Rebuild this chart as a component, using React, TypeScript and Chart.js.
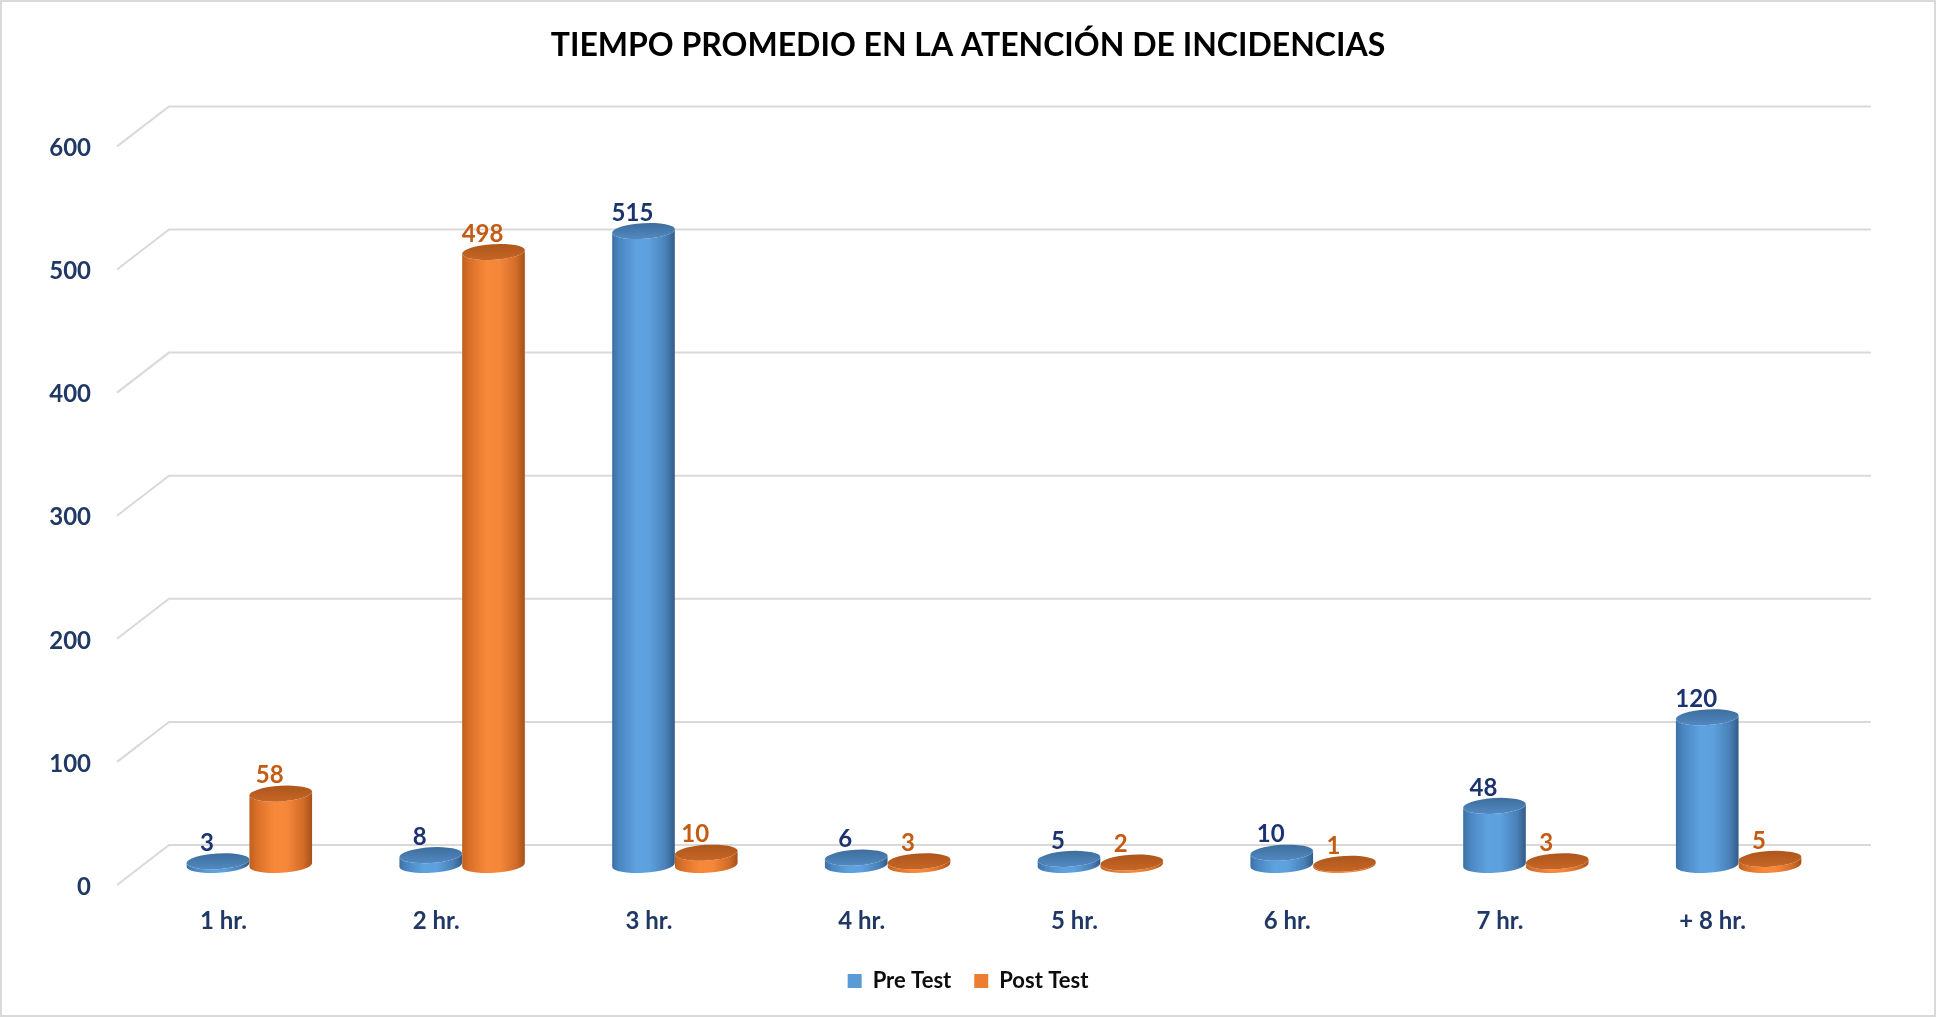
import { useEffect, useRef } from "react";
import { Chart, registerables } from "chart.js";

Chart.register(...registerables);

// ---- data ----
const chartTitle = "TIEMPO PROMEDIO EN LA ATENCIÓN DE INCIDENCIAS";
const categories = ["1 hr.", "2 hr.", "3 hr.", "4 hr.", "5 hr.", "6 hr.", "7 hr.", "+ 8 hr."];
const seriesNames = ["Pre Test", "Post Test"];
const preTest = [3, 8, 515, 6, 5, 10, 48, 120];
const postTest = [58, 498, 10, 3, 2, 1, 3, 5];
const yMin = 0;
const yMax = 600;
const yStep = 100;

// ---- look ----
const FONT = "Lato";
const NAVY = "#1F3864";
const LABEL_COLORS = ["#1B3470", "#C55A11"];
const LEGEND_COLORS = ["#5B9BD5", "#ED7D31"];
// shift from the plane the cylinders stand on to the front / back walls
const DEPTH_X = 26;
const DEPTH_Y = 20;

type Stop = [number, string];
interface Palette {
  body: Stop[];
  top: Stop[];
}
const PALETTES: Palette[] = [
  {
    body: [
      [0, "#3D70A4"],
      [0.12, "#4B87C2"],
      [0.4, "#5EA3E0"],
      [0.6, "#5CA0DD"],
      [0.86, "#4980B8"],
      [1, "#325C87"],
    ],
    top: [
      [0, "#3E6E9E"],
      [1, "#5189C0"],
    ],
  },
  {
    body: [
      [0, "#BF601E"],
      [0.12, "#DA7029"],
      [0.4, "#F8893A"],
      [0.6, "#F5873A"],
      [0.86, "#D26C27"],
      [1, "#A6511A"],
    ],
    top: [
      [0, "#AE561C"],
      [1, "#C56626"],
    ],
  },
];

function drawCylinder(
  ctx: CanvasRenderingContext2D,
  cx: number,
  yTop: number,
  yBase: number,
  w: number,
  pal: Palette
) {
  const rx = w / 2;
  const ry = w * 0.125;
  const rot = -0.06;
  const c = Math.cos(rot);
  const s = Math.sin(rot);

  const body = ctx.createLinearGradient(cx - rx, 0, cx + rx, 0);
  pal.body.forEach(([o, col]) => body.addColorStop(o, col));
  ctx.beginPath();
  ctx.moveTo(cx - rx * c, yTop - rx * s);
  ctx.lineTo(cx - rx * c, yBase - rx * s);
  ctx.ellipse(cx, yBase, rx, ry, rot, Math.PI, 0, true);
  ctx.lineTo(cx + rx * c, yTop + rx * s);
  ctx.ellipse(cx, yTop, rx, ry, rot, 0, Math.PI, false);
  ctx.closePath();
  ctx.fillStyle = body;
  ctx.fill();

  const top = ctx.createLinearGradient(0, yTop - ry, 0, yTop + ry);
  pal.top.forEach(([o, col]) => top.addColorStop(o, col));
  ctx.beginPath();
  ctx.ellipse(cx, yTop, rx, ry, rot, 0, Math.PI * 2);
  ctx.fillStyle = top;
  ctx.fill();
}

const depthPlugin = {
  id: "depth3d",
  beforeDraw(chart: any) {
    const { ctx, width, height } = chart;
    ctx.save();
    ctx.fillStyle = "#FFFFFF";
    ctx.fillRect(0, 0, width, height);
    ctx.strokeStyle = "#D9D9D9";
    ctx.lineWidth = 2;
    ctx.strokeRect(1, 1, width - 2, height - 2);
    ctx.restore();
  },
  beforeDatasetsDraw(chart: any) {
    const { ctx, chartArea, scales } = chart;
    const y = scales.y;
    ctx.save();
    ctx.strokeStyle = "#D9D9D9";
    ctx.lineWidth = 2;
    for (let v = yMin; v <= yMax; v += yStep) {
      const py = y.getPixelForValue(v);
      ctx.beginPath();
      ctx.moveTo(chartArea.left - DEPTH_X, py + DEPTH_Y);
      ctx.lineTo(chartArea.left + DEPTH_X, py - DEPTH_Y);
      ctx.lineTo(chartArea.right + DEPTH_X, py - DEPTH_Y);
      ctx.stroke();
    }
    ctx.restore();
  },
  beforeDatasetDraw() {
    // the flat bars are replaced by cylinders
    return false;
  },
  afterDatasetsDraw(chart: any) {
    const { ctx } = chart;
    const metas = chart.data.datasets.map((_: any, d: number) => chart.getDatasetMeta(d));
    ctx.save();
    for (let i = 0; i < categories.length; i++) {
      metas.forEach((meta: any, d: number) => {
        const el = meta.data[i];
        if (!el) return;
        const { x, y, base, width } = el.getProps(["x", "y", "base", "width"], true);
        drawCylinder(ctx, x, y, base, width, PALETTES[d]);
      });
    }
    ctx.font = `bold 24px ${FONT}`;
    ctx.textAlign = "center";
    ctx.textBaseline = "middle";
    metas.forEach((meta: any, d: number) => {
      const values = chart.data.datasets[d].data as number[];
      meta.data.forEach((el: any, i: number) => {
        const { x, y } = el.getProps(["x", "y"], true);
        ctx.fillStyle = LABEL_COLORS[d];
        ctx.fillText(String(values[i]), x - 11, y - 18);
      });
    });
    ctx.restore();
  },
};

export default function App() {
  const canvasRef = useRef<HTMLCanvasElement | null>(null);

  useEffect(() => {
    if (!canvasRef.current) return;
    Chart.defaults.font.family = FONT;
    const chart = new Chart(canvasRef.current, {
      type: "bar",
      data: {
        labels: categories,
        datasets: [
          {
            label: seriesNames[0],
            data: preTest,
            backgroundColor: LEGEND_COLORS[0],
            borderWidth: 0,
          },
          {
            label: seriesNames[1],
            data: postTest,
            backgroundColor: LEGEND_COLORS[1],
            borderWidth: 0,
          },
        ],
      },
      options: {
        responsive: false,
        animation: false,
        events: [],
        datasets: {
          bar: { categoryPercentage: 0.59, barPercentage: 1.0 },
        },
        layout: { padding: { left: 45, right: 45, top: 0, bottom: 15 } },
        scales: {
          x: {
            grid: { display: false, drawTicks: false },
            border: { display: false },
            ticks: {
              color: NAVY,
              font: { size: 24, weight: "bold" },
              padding: 42,
              labelOffset: -DEPTH_X,
              maxRotation: 0,
              autoSkip: false,
            },
            afterFit: (scale: any) => {
              scale.height = 82;
            },
          },
          y: {
            min: yMin,
            max: yMax,
            grid: { display: false, drawTicks: false },
            border: { display: false },
            ticks: {
              stepSize: yStep,
              color: NAVY,
              font: { size: 24, weight: "bold" },
              padding: 52,
              labelOffset: DEPTH_Y + 2,
            },
            afterFit: (scale: any) => {
              scale.width = 98;
            },
          },
          // empty right-hand strip that keeps room for the back wall
          yRight: {
            position: "right",
            display: true,
            grid: { display: false, drawTicks: false },
            border: { display: false },
            ticks: { display: false },
            afterFit: (scale: any) => {
              scale.width = 46;
            },
          },
        },
        plugins: {
          title: {
            display: true,
            text: chartTitle,
            color: "#000000",
            font: { size: 32, weight: "bold" },
            padding: { top: 26, bottom: 62 },
          },
          legend: {
            position: "bottom",
            labels: {
              boxWidth: 14,
              boxHeight: 14,
              padding: 23,
              color: "#0D0D0D",
              font: { size: 22, weight: "bold" },
            },
          },
          tooltip: { enabled: false },
        },
      },
      plugins: [depthPlugin],
    });
    return () => chart.destroy();
  }, []);

  return (
    <div style={{ position: "fixed", left: 0, top: 0, width: 1936, height: 1017, background: "#fff" }}>
      <canvas ref={canvasRef} width={1936} height={1017} style={{ display: "block" }} />
    </div>
  );
}
